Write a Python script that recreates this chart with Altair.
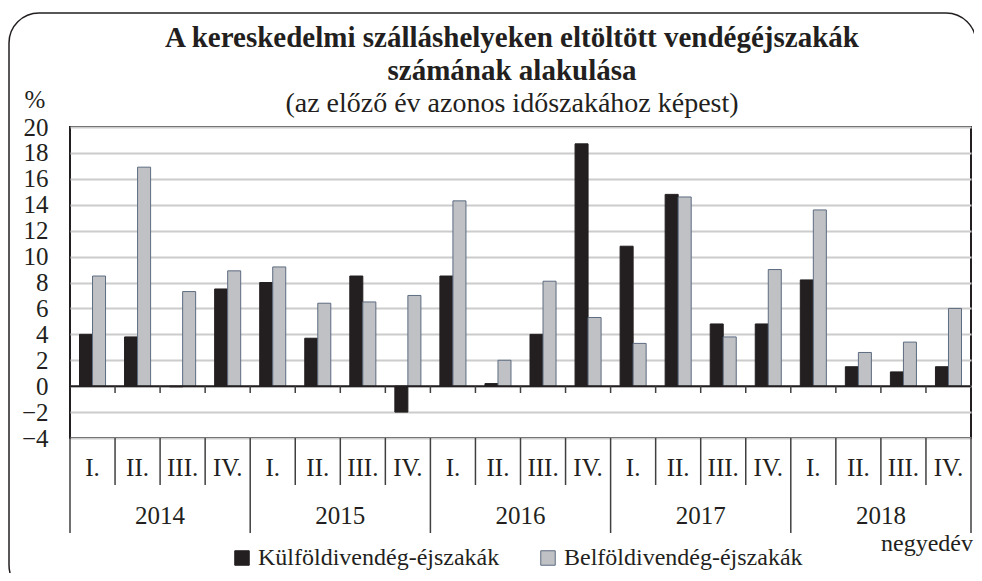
import altair as alt
import pandas as pd

years = ["2014", "2015", "2016", "2017", "2018"]
quarters = ["I.", "II.", "III.", "IV."]
series_names = ["Külföldivendég-éjszakák", "Belföldivendég-éjszakák"]
kulfoldi = [4.0, 3.8, -0.05, 7.5,
            8.0, 3.7, 8.5, -2.0,
            8.5, 0.2, 4.0, 18.7,
            10.8, 14.8, 4.8, 4.8,
            8.2, 1.5, 1.1, 1.5]
belfoldi = [8.5, 16.9, 7.3, 8.9,
            9.2, 6.4, 6.5, 7.0,
            14.3, 2.0, 8.1, 5.3,
            3.3, 14.6, 3.8, 9.0,
            13.6, 2.6, 3.4, 6.0]
y_ticks = list(range(-4, 21, 2))
title_line1 = "A kereskedelmi szálláshelyeken eltöltött vendégéjszakák"
title_line2 = "számának alakulása"
subtitle = "(az előző év azonos időszakához képest)"
unit_label = "%"
x_label = "negyedév"

FONT = "Liberation Serif"
INK = "#231f20"
GRAY = "#bfc1c4"
GRAY_EDGE = "#5d6c80"
SEP = "#404040"

periods = [f"{y} {q}" for y in years for q in quarters]
per_df = pd.DataFrame({
    "period": periods,
    "year": [y for y in years for q in quarters],
    "quarter": [q for y in years for q in quarters],
    "value": [0] * len(periods),
})
rows = []
for i, p in enumerate(periods):
    rows.append({"period": p, "series": series_names[0], "value": kulfoldi[i]})
    rows.append({"period": p, "series": series_names[1], "value": belfoldi[i]})
bars_df = pd.DataFrame(rows)
one = pd.DataFrame({"value": [0]})

xscale = alt.Scale(domain=periods, paddingInner=0, paddingOuter=0)
yscale = alt.Scale(domain=[-4, 20], nice=False, zero=False)
yaxis = alt.Axis(values=y_ticks, grid=True, gridColor="#cccccc", gridWidth=2,
                 ticks=False, domain=False, labelFont=FONT, labelFontSize=25,
                 labelColor=INK, labelPadding=22, labelOverlap=False,
                 labelBound=False, labelFlush=False, title=None)


def X(band=None):
    if band is None:
        return alt.X("period:N", scale=xscale, axis=None)
    return alt.X("period:N", scale=xscale, axis=None, bandPosition=band)


Y = alt.Y("value:Q", scale=yscale, axis=yaxis)

legend = alt.Legend(orient="none", legendX=160, legendY=419, direction="horizontal",
                    title=None, symbolType="square", symbolSize=210,
                    labelFont=FONT, labelFontSize=24, labelColor=INK,
                    columnPadding=36, labelOffset=4, labelLimit=0, symbolStrokeWidth=1)

bars = alt.Chart(bars_df).mark_bar(strokeWidth=1).encode(
    x=X(),
    xOffset=alt.XOffset("series:N", sort=series_names,
                        scale=alt.Scale(domain=series_names, paddingInner=0, paddingOuter=0.73)),
    y=Y,
    fill=alt.Fill("series:N", scale=alt.Scale(domain=series_names, range=[INK, GRAY]), legend=legend),
    stroke=alt.Stroke("series:N", scale=alt.Scale(domain=series_names, range=[INK, GRAY_EDGE]), legend=legend),
)

zero = alt.Chart(one).mark_rule(color=INK, strokeWidth=2).encode(y=Y)

zero_ticks = alt.Chart(per_df[per_df["period"] != periods[0]]).mark_rule(color=SEP, strokeWidth=1.5).encode(
    x=X(0), y=Y, y2=alt.value(266))

q_sep = alt.Chart(per_df[per_df["quarter"] != "I."]).mark_rule(color=SEP, strokeWidth=1.5).encode(
    x=X(0), y=alt.value(311), y2=alt.value(358))
y_sep = alt.Chart(per_df[per_df["quarter"] == "I."]).mark_rule(color=SEP, strokeWidth=1.5).encode(
    x=X(0), y=alt.value(311), y2=alt.value(406))
end_sep = alt.Chart(per_df[per_df["period"] == periods[-1]]).mark_rule(color=SEP, strokeWidth=1.5).encode(
    x=X(1), y=alt.value(311), y2=alt.value(406))

q_labels = alt.Chart(per_df).mark_text(font=FONT, fontSize=25, color=INK, baseline="alphabetic").encode(
    x=X(), y=alt.value(349), text="quarter:N")
y_labels = alt.Chart(per_df[per_df["quarter"] == "II."]).mark_text(
    font=FONT, fontSize=25, color=INK, baseline="alphabetic").encode(
    x=X(1), y=alt.value(397), text="year:N")


def label(text, x, y, size=24, weight="normal", align="center", baseline="middle"):
    return alt.Chart(one).mark_text(font=FONT, fontSize=size, fontWeight=weight, color=INK,
                                    align=align, baseline=baseline).encode(
        x=alt.value(x), y=alt.value(y), text=alt.value(text))


t1 = label(title_line1, 442, -89, size=29, weight="bold")
t2 = label(title_line2, 442, -56, size=29, weight="bold")
t3 = label(subtitle, 442, -23, size=28)
pct = label(unit_label, -35, -27, size=25)
neg = label(x_label, 903, 424, size=24, align="right", baseline="alphabetic")

border = alt.Chart(one).mark_rect(fill=None, filled=False, stroke=INK, strokeWidth=1.5, cornerRadius=30).encode(
    x=alt.value(-61), x2=alt.value(906), y=alt.value(-114), y2=alt.value(468))

chart = alt.layer(
    bars, zero, zero_ticks, q_sep, y_sep, end_sep, q_labels, y_labels,
    t1, t2, t3, pct, neg, border
).resolve_scale(x="shared").properties(
    width=901, height=311,
    autosize=alt.AutoSizeParams(type="none"),
    padding={"left": 62, "top": 119, "right": 3, "bottom": 135},
    background="white",
).configure_view(stroke=INK, strokeWidth=2).configure_axis(labelOverlap=False)

chart.save("out.html", embed_options={"renderer": "svg", "actions": False})
